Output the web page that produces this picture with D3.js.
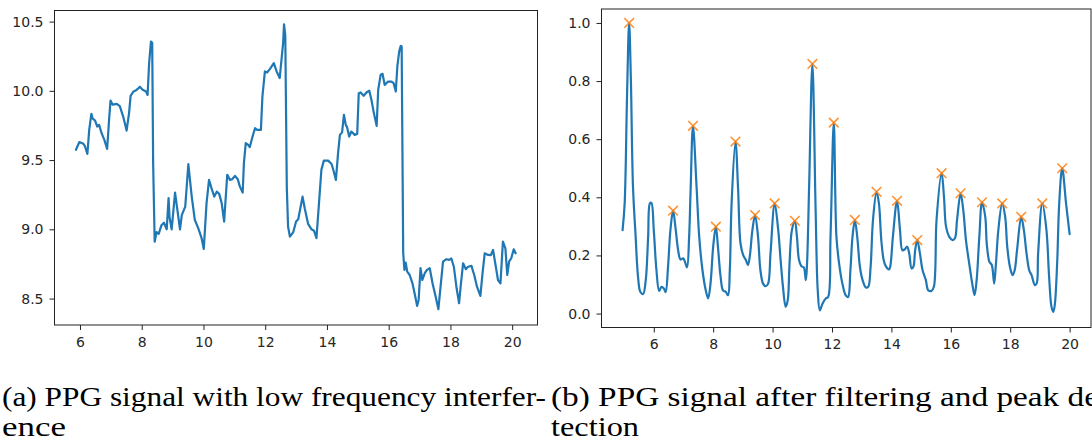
<!DOCTYPE html>
<html>
<head>
<meta charset="utf-8">
<script src="https://cdn.jsdelivr.net/npm/d3@7"></script>
<style>
html,body{margin:0;padding:0;background:#fff;}
svg{display:block;}
</style>
</head>
<body>
<svg id="chart" width="1092" height="441"></svg>
<script>
// ---- Panel (a): raw PPG signal ----
const rawT = [5.87,5.98,6.11,6.16,6.24,6.30,6.37,6.41,6.49,6.56,6.62,6.70,6.79,6.88,6.95,6.99,7.06,7.19,7.29,7.40,7.51,7.59,7.64,7.73,7.79,7.86,7.94,8.03,8.14,8.19,8.24,8.30,8.34,8.37,8.42,8.48,8.55,8.64,8.72,8.81,8.87,8.90,8.97,9.08,9.24,9.30,9.41,9.51,9.62,9.72,9.83,9.94,10.01,10.10,10.18,10.26,10.35,10.43,10.51,10.59,10.67,10.77,10.86,10.93,11.02,11.11,11.18,11.27,11.31,11.37,11.45,11.50,11.59,11.67,11.74,11.86,11.91,11.99,12.06,12.15,12.28,12.37,12.47,12.58,12.61,12.65,12.70,12.74,12.80,12.91,13.00,13.07,13.21,13.28,13.39,13.50,13.58,13.66,13.75,13.82,13.90,14.04,14.15,14.22,14.29,14.36,14.42,14.49,14.55,14.61,14.65,14.72,14.79,14.90,14.98,15.03,15.09,15.19,15.28,15.37,15.44,15.52,15.61,15.66,15.74,15.80,15.87,15.98,16.09,16.16,16.23,16.28,16.34,16.39,16.42,16.47,16.51,16.55,16.60,16.68,16.77,16.85,16.92,16.97,17.03,17.09,17.17,17.24,17.33,17.42,17.52,17.61,17.68,17.76,17.87,17.96,18.03,18.11,18.20,18.28,18.33,18.41,18.50,18.57,18.68,18.77,18.86,18.97,19.04,19.11,19.22,19.31,19.38,19.47,19.54,19.62,19.70,19.78,19.84,19.90,19.97,20.05,20.11];
const rawV = [9.574,9.63,9.617,9.60,9.545,9.72,9.834,9.80,9.785,9.742,9.754,9.694,9.646,9.58,9.814,9.93,9.90,9.906,9.89,9.814,9.713,9.839,9.964,9.995,10.0,10.012,10.03,10.007,9.995,9.97,10.2,10.356,10.345,9.48,8.91,8.98,8.967,9.03,9.048,9.0,9.225,9.09,9.0,9.265,9.0,9.104,9.164,9.47,9.236,9.068,9.008,8.936,8.858,9.189,9.357,9.297,9.236,9.272,9.256,9.189,9.056,9.393,9.357,9.362,9.386,9.362,9.308,9.265,9.477,9.622,9.61,9.593,9.67,9.73,9.718,9.718,9.959,10.14,10.132,10.157,10.2,10.14,10.092,10.345,10.48,10.40,9.30,9.02,8.947,8.98,9.056,9.073,9.236,9.152,9.039,9.0,8.99,8.936,9.212,9.43,9.496,9.496,9.472,9.417,9.357,9.55,9.682,9.70,9.827,9.754,9.738,9.67,9.706,9.682,9.689,9.983,9.988,9.964,9.988,10.002,9.935,9.839,9.747,10.007,10.116,10.123,10.043,10.067,10.067,10.055,9.995,10.176,10.284,10.325,10.32,8.827,8.707,8.76,8.694,8.67,8.61,8.526,8.447,8.49,8.719,8.634,8.683,8.707,8.719,8.61,8.514,8.423,8.586,8.767,8.784,8.779,8.789,8.73,8.574,8.466,8.586,8.755,8.712,8.73,8.736,8.67,8.586,8.519,8.683,8.827,8.815,8.813,8.851,8.73,8.634,8.61,8.911,8.863,8.67,8.767,8.791,8.856,8.827];

// ---- Panel (b): filtered PPG signal ----
const filtT = [4.95,5.02,5.10,5.17,5.23,5.30,5.39,5.47,5.55,5.64,5.73,5.81,5.87,5.92,6.00,6.09,6.18,6.26,6.34,6.40,6.48,6.56,6.65,6.74,6.82,6.90,6.99,7.04,7.12,7.19,7.24,7.32,7.44,7.53,7.64,7.75,7.83,7.91,8.00,8.09,8.16,8.25,8.33,8.42,8.50,8.56,8.62,8.75,8.84,8.92,9.01,9.10,9.17,9.23,9.32,9.41,9.51,9.59,9.68,9.77,9.85,9.93,10.07,10.19,10.27,10.35,10.44,10.51,10.57,10.65,10.75,10.82,10.89,10.97,11.05,11.12,11.16,11.23,11.34,11.45,11.52,11.59,11.68,11.79,11.87,11.95,12.06,12.15,12.24,12.35,12.46,12.54,12.62,12.69,12.77,12.85,12.94,13.03,13.14,13.22,13.30,13.38,13.50,13.58,13.66,13.74,13.81,13.92,13.96,14.05,14.19,14.29,14.37,14.45,14.53,14.60,14.68,14.74,14.80,14.87,14.96,15.05,15.16,15.24,15.35,15.43,15.52,15.69,15.77,15.84,15.95,16.06,16.14,16.21,16.33,16.42,16.51,16.62,16.73,16.80,16.87,16.96,17.05,17.16,17.21,17.30,17.38,17.46,17.52,17.60,17.73,17.83,17.90,17.99,18.08,18.15,18.23,18.37,18.46,18.55,18.64,18.72,18.83,18.89,18.94,19.08,19.22,19.31,19.39,19.45,19.50,19.58,19.65,19.75,19.88,20.00];
const filtV = [0.287,0.38,0.75,1.0,0.80,0.437,0.264,0.126,0.074,0.067,0.115,0.264,0.379,0.381,0.287,0.149,0.078,0.092,0.086,0.074,0.161,0.287,0.354,0.287,0.218,0.186,0.19,0.181,0.159,0.264,0.425,0.646,0.437,0.264,0.149,0.08,0.052,0.103,0.23,0.299,0.23,0.126,0.08,0.075,0.063,0.149,0.379,0.592,0.425,0.241,0.201,0.184,0.167,0.195,0.287,0.339,0.264,0.149,0.103,0.094,0.103,0.207,0.379,0.287,0.184,0.092,0.023,0.046,0.172,0.287,0.319,0.264,0.184,0.163,0.159,0.115,0.172,0.437,0.859,0.35,0.08,0.011,0.034,0.052,0.057,0.264,0.657,0.264,0.172,0.103,0.063,0.057,0.149,0.264,0.322,0.264,0.161,0.115,0.09,0.092,0.161,0.322,0.419,0.379,0.253,0.184,0.163,0.152,0.161,0.264,0.388,0.287,0.218,0.221,0.23,0.207,0.155,0.161,0.218,0.253,0.207,0.149,0.115,0.08,0.078,0.092,0.322,0.483,0.402,0.299,0.264,0.253,0.259,0.322,0.414,0.356,0.253,0.172,0.098,0.063,0.115,0.264,0.383,0.333,0.241,0.178,0.167,0.103,0.172,0.287,0.379,0.333,0.23,0.161,0.132,0.149,0.218,0.333,0.287,0.207,0.149,0.132,0.098,0.103,0.207,0.379,0.287,0.126,0.023,0.006,0.029,0.172,0.379,0.5,0.379,0.273];

// detected peaks
const peakT = [5.17,6.65,7.32,8.09,8.75,9.41,10.07,10.75,11.34,12.06,12.77,13.50,14.19,14.87,15.69,16.33,17.05,17.73,18.37,19.08,19.75];
const peakV = [1.0,0.354,0.646,0.299,0.592,0.339,0.379,0.319,0.859,0.657,0.322,0.419,0.388,0.253,0.483,0.414,0.383,0.379,0.333,0.379,0.5];

// tick labels
const ticksAX = [6,8,10,12,14,16,18,20];
const ticksAY = [8.5,9.0,9.5,10.0,10.5];
const ticksBX = [6,8,10,12,14,16,18,20];
const ticksBY = [0.0,0.2,0.4,0.6,0.8,1.0];

// captions
const captionA = ["(a) PPG signal with low frequency interfer-", "ence"];
const captionB = ["(b) PPG signal after filtering and peak de", "tection"];

const svg = d3.select("#chart");
const BLUE = "#1f77b4", ORANGE = "#ff7f0e";
const tickFont = "'DejaVu Sans', sans-serif";

function panel(cfg) {
  const x = d3.scaleLinear().domain(cfg.xDomain).range([cfg.left, cfg.right]);
  const y = d3.scaleLinear().domain(cfg.yDomain).range([cfg.bottom, cfg.top]);
  const g = svg.append("g");

  const line = d3.line().x(d => x(d[0])).y(d => y(d[1])).curve(cfg.curve);
  const pts = cfg.t.map((t, i) => [t, cfg.v[i]]);
  g.append("path").datum(pts).attr("d", line)
    .attr("fill", "none").attr("stroke", BLUE).attr("stroke-width", 2.2)
    .attr("stroke-linejoin", "round").attr("stroke-linecap", "round");

  if (cfg.peaks) {
    const s = 4.8;
    const pk = cfg.peaks.t.map((t, i) => [t, cfg.peaks.v[i]]);
    g.selectAll("path.pk").data(pk).enter().append("path")
      .attr("class", "pk")
      .attr("d", d => {
        const cx = x(d[0]), cy = y(d[1]);
        return `M${cx-s},${cy-s}L${cx+s},${cy+s}M${cx-s},${cy+s}L${cx+s},${cy-s}`;
      })
      .attr("stroke", ORANGE).attr("stroke-width", 1.6).attr("fill", "none").attr("opacity", 0.85);
  }

  const xAxis = d3.axisBottom(x).tickValues(cfg.xTicks).tickSize(5).tickPadding(7)
    .tickFormat(d3.format("d"));
  const yAxis = d3.axisLeft(y).tickValues(cfg.yTicks).tickSize(5).tickPadding(6)
    .tickFormat(d3.format(".1f"));

  const gx = g.append("g").attr("transform", `translate(0,${cfg.bottom})`).call(xAxis);
  const gy = g.append("g").attr("transform", `translate(${cfg.left},0)`).call(yAxis);
  [gx, gy].forEach(a => {
    a.select(".domain").remove();
    a.selectAll("line").attr("stroke", "#222").attr("stroke-width", 1);
    a.selectAll("text").attr("fill", "#262626").style("font-family", tickFont).style("font-size", "14px");
  });

  g.append("rect").attr("x", cfg.left).attr("y", cfg.top)
    .attr("width", cfg.right - cfg.left).attr("height", cfg.bottom - cfg.top)
    .attr("fill", "none").attr("stroke", "#222").attr("stroke-width", 1);
}

panel({
  left: 54.5, right: 537.5, top: 10.5, bottom: 325,
  xDomain: [5.175, 20.82], yDomain: [8.309, 10.58],
  t: rawT, v: rawV, curve: d3.curveLinear,
  xTicks: ticksAX, yTicks: ticksAY
});

panel({
  left: 601.5, right: 1091, top: 9, bottom: 327.5,
  xDomain: [4.24, 20.72], yDomain: [-0.048, 1.048],
  t: filtT, v: filtV, curve: d3.curveCatmullRom.alpha(0.5),
  peaks: {t: peakT, v: peakV},
  xTicks: ticksBX, yTicks: ticksBY
});

function caption(lines, x0, widths, base0, lh) {
  lines.forEach((s, i) => {
    svg.append("text").attr("x", x0).attr("y", base0 + i * lh)
      .attr("fill", "#000")
      .style("font-family", "'Liberation Serif', 'Times New Roman', serif").style("font-size", "28px")
      .attr("textLength", widths[i]).attr("lengthAdjust", "spacingAndGlyphs")
      .text(s);
  });
}
caption(captionA, 2, [544, 64], 406, 30);
caption(captionB, 551, [548, 88], 406, 30);
</script>
</body>
</html>
